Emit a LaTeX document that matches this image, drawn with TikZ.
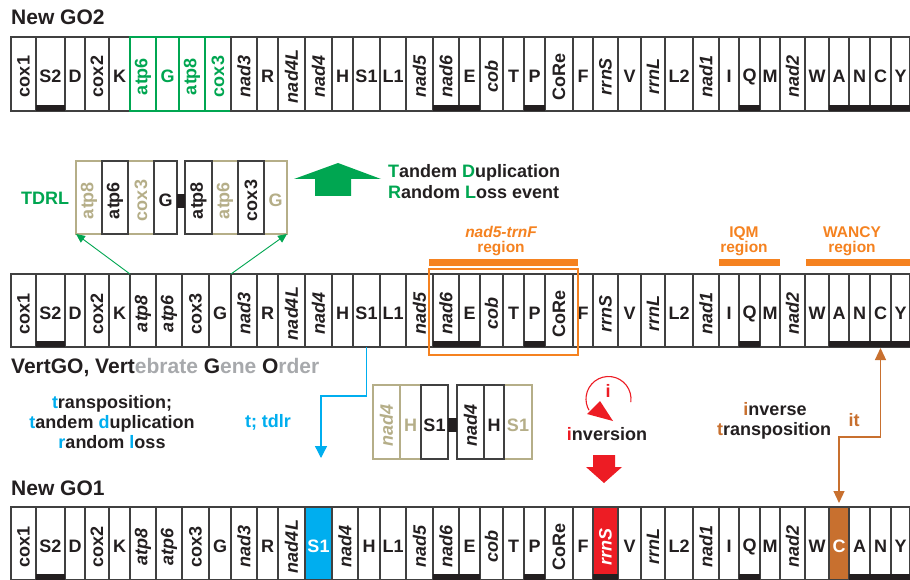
\documentclass[tikz,border=0pt]{standalone}
\usepackage{fontspec}
\setmainfont{Liberation Sans}
\usetikzlibrary{arrows.meta}
\definecolor{txt}{HTML}{231F20}
\definecolor{frame}{HTML}{404040}
\definecolor{tdgreen}{HTML}{00A651}
\definecolor{khaki}{HTML}{B5AE88}
\definecolor{rorange}{HTML}{F58220}
\definecolor{tblue}{HTML}{00AEEF}
\definecolor{tred}{HTML}{ED1C24}
\definecolor{tbrown}{HTML}{C8702F}
\definecolor{lgray}{HTML}{A7A9AC}
\newcommand\genefont{\fontsize{18}{19}\selectfont\bfseries}
\newcommand\titlefont{\fontsize{21}{24}\selectfont\bfseries}
\newcommand\bodyfont{\fontsize{18}{21}\selectfont\bfseries}
\newcommand\regfont{\fontsize{15.5}{17}\selectfont\bfseries}
\tikzset{
  gb/.style={rectangle, inner sep=0pt, outer sep=0pt, line width=1.3pt},
  bk/.is choice,
  bk/n/.style={draw=frame, fill=white},
  bk/g/.style={draw=tdgreen, fill=white},
  bk/k/.style={draw=khaki, fill=white},
  bk/u/.style={draw=frame, fill=tblue},
  bk/r/.style={draw=frame, fill=tred},
  bk/o/.style={draw=frame, fill=tbrown},
  tk/.is choice,
  tk/n/.style={text=txt},
  tk/g/.style={text=tdgreen},
  tk/k/.style={text=khaki},
  tk/u/.style={text=white},
  tk/r/.style={text=white},
  tk/o/.style={text=white},
  fmt/.is choice,
  fmt/t/.style={font=\genefont},
  fmt/p/.style={font=\genefont, rotate=90},
  fmt/i/.style={font=\genefont\itshape, rotate=90},
  lbl/.style={inner sep=0pt, outer sep=0pt},
  title/.style={inner sep=0pt, anchor=base west, font=\titlefont, text=txt},
  body/.style={inner sep=0pt, anchor=base, font=\bodyfont, text=txt},
  regl/.style={inner sep=0pt, anchor=base, font=\regfont, text=rorange},
  strandbar/.style={fill=txt},
  rowedge/.style={draw=gray!85!black, line width=1.6pt},
}
% #1 prefix, #2 top y, #3 height, #4 list
\newcommand\generow[4]{%
  \foreach \a/\b/\nm/\k/\s in {#4} {
    \node[gb, bk=\s, minimum width={(\b-\a)*1pt}, minimum height={#3*1pt}] (#1\nm) at ({(\a+\b)/2},{#2+#3/2}) {};
    \node[lbl, fmt=\k, tk=\s] (#1\nm-l) at ({(\a+\b)/2},{#2+39.5}) {\nm};
  }
}
\begin{document}
\begin{tikzpicture}[x=1pt, y=-1pt]
\useasboundingbox (0,0) rectangle (910,580);
\fill[white] (0,0) rectangle (910,580);

% ---------- titles ----------
\node[title] (go2) at (11,25) {New GO2};
\node[title] (vert) at (11,373) {VertGO, Vert\textcolor{lgray}{ebrate }G\textcolor{lgray}{ene }O\textcolor{lgray}{rder}};
\node[title] (go1) at (11,495) {New GO1};

% ---------- top row: New GO2 ----------
\generow{top-}{37}{74}{11/36/cox1/p/n, 36/65/S2/t/n, 65/85/D/t/n, 85/109/cox2/p/n, 109/130/K/t/n, 130/156/atp6/p/g, 156/179/G/t/g, 179/205/atp8/p/g, 205/231/cox3/p/g, 231/257/nad3/i/n, 257/278/R/t/n, 278/305/nad4L/i/n, 305/332/nad4/i/n, 332/353/H/t/n, 353/380/S1/t/n, 380/406/L1/t/n, 406/433/nad5/i/n, 433/459/nad6/i/n, 459/480/E/t/n, 480/503/cob/i/n, 503/524/T/t/n, 524/545/P/t/n, 545/573/CoRe/p/n, 573/593/F/t/n, 593/618/rrnS/i/n, 618/641/V/t/n, 641/665/rrnL/i/n, 665/693/L2/t/n, 693/719/nad1/i/n, 719/739/I/t/n, 739/760/Q/t/n, 760/780/M/t/n, 780/805/nad2/i/n, 805/829/W/t/n, 829/849/A/t/n, 849/870/N/t/n, 870/891/C/t/n, 891/910/Y/t/n}
\foreach \a/\b in {36/65, 433/480, 524/545, 739/760, 829/911}
  \fill[strandbar] (\a,105) rectangle (\b,111);

% ---------- middle row: VertGO ----------
\generow{mid-}{274}{73}{11/36/cox1/p/n, 36/65/S2/t/n, 65/85/D/t/n, 85/109/cox2/p/n, 109/130/K/t/n, 130/156/atp8/i/n, 156/182/atp6/i/n, 182/209/cox3/p/n, 209/231/G/t/n, 231/257/nad3/i/n, 257/278/R/t/n, 278/305/nad4L/i/n, 305/332/nad4/i/n, 332/353/H/t/n, 353/380/S1/t/n, 380/406/L1/t/n, 406/433/nad5/i/n, 433/459/nad6/i/n, 459/480/E/t/n, 480/503/cob/i/n, 503/524/T/t/n, 524/545/P/t/n, 545/573/CoRe/p/n, 573/593/F/t/n, 593/618/rrnS/i/n, 618/641/V/t/n, 641/665/rrnL/i/n, 665/693/L2/t/n, 693/719/nad1/i/n, 719/739/I/t/n, 739/760/Q/t/n, 760/780/M/t/n, 780/805/nad2/i/n, 805/829/W/t/n, 829/849/A/t/n, 849/870/N/t/n, 870/891/C/t/n, 891/910/Y/t/n}
\foreach \a/\b in {36/65, 433/480, 524/545, 739/760, 829/911}
  \fill[strandbar] (\a,341) rectangle (\b,347);

% ---------- bottom row: New GO1 ----------
\generow{bot-}{507}{73}{11/36/cox1/p/n, 36/65/S2/t/n, 65/85/D/t/n, 85/109/cox2/p/n, 109/130/K/t/n, 130/156/atp8/i/n, 156/182/atp6/i/n, 182/209/cox3/p/n, 209/231/G/t/n, 231/257/nad3/i/n, 257/278/R/t/n, 278/305/nad4L/i/n, 305/332/S1/t/u, 332/358/nad4/i/n, 358/380/H/t/n, 380/406/L1/t/n, 406/433/nad5/i/n, 433/459/nad6/i/n, 459/480/E/t/n, 480/503/cob/i/n, 503/524/T/t/n, 524/545/P/t/n, 545/573/CoRe/p/n, 573/593/F/t/n, 593/618/rrnS/i/r, 618/641/V/t/n, 641/665/rrnL/i/n, 665/693/L2/t/n, 693/719/nad1/i/n, 719/739/I/t/n, 739/760/Q/t/n, 760/780/M/t/n, 780/805/nad2/i/n, 805/829/W/t/n, 829/849/C/t/o, 849/870/A/t/n, 870/891/N/t/n, 891/910/Y/t/n}
\foreach \a/\b in {36/65, 433/480, 524/545, 593/618, 739/760, 849/911}
  \fill[strandbar] (\a,574) rectangle (\b,580);

% ---------- regions ----------
\fill[rorange] (429,259) rectangle (578,266);
\fill[rorange] (719,259) rectangle (780,266);
\fill[rorange] (806,259) rectangle (911,266);
\draw[rorange, line width=1.2pt] (429,269) rectangle (578,355);
\node[regl] (reg1a) at (501,237) {\itshape nad5-trnF};
\node[regl] (reg1b) at (501,252) {region};
\node[regl] (reg2a) at (744,237) {IQM};
\node[regl] (reg2b) at (744,252) {region};
\node[regl] (reg3a) at (852,237) {WANCY};
\node[regl] (reg3b) at (852,252) {region};

% ---------- TDRL group ----------
\node[inner sep=0pt, anchor=base west, font=\bodyfont, text=tdgreen] (tdrl) at (21,205) {TDRL};
\foreach \a/\b/\nm/\k/\s/\id in {76/102/atp8/p/k/d1, 128/154/cox3/p/k/d3, 212/238/atp6/p/k/d6, 264/287/G/t/k/d8, 102/128/atp6/p/n/d2, 154/177/G/t/n/d4, 185/212/atp8/p/n/d5, 238/264/cox3/p/n/d7} {
  \node[gb, bk=\s, minimum width={(\b-\a)*1pt}, minimum height=73pt] (\id) at ({(\a+\b)/2},197.5) {};
  \node[lbl, fmt=\k, tk=\s] (\id-l) at ({(\a+\b)/2},200.5) {\nm};
}
\node[fill=txt, inner sep=0pt, minimum width=8pt, minimum height=14pt] (dlink) at (181,201) {};
\draw[tdgreen, line width=0.9pt, -{Triangle[width=8pt,length=9pt]}] (mid-K.north east) -- (d1.south west);
\draw[tdgreen, line width=0.9pt, -{Triangle[width=8pt,length=9pt]}] (mid-G.north east) -- (d8.south east);

% big green arrow + caption
\fill[tdgreen] (338,163) -- (381,179) -- (351,179) -- (351,196) -- (315,196) -- (315,179) -- (294,179) -- cycle;
\node[body, anchor=base west] (tdl1) at (388,178) {\textcolor{tdgreen}{T}andem \textcolor{tdgreen}{D}uplication};
\node[body, anchor=base west] (tdl2) at (388,199) {\textcolor{tdgreen}{R}andom \textcolor{tdgreen}{L}oss event};

% ---------- S1 duplication group ----------
\foreach \a/\b/\nm/\k/\s/\id in {373/400/nad4/i/k/s1, 400/421/H/t/k/s2, 504/532/S1/t/k/s6, 421/448/S1/t/n/s3, 457/484/nad4/i/n/s4, 484/504/H/t/n/s5} {
  \node[gb, bk=\s, minimum width={(\b-\a)*1pt}, minimum height=74pt] (\id) at ({(\a+\b)/2},422) {};
  \node[lbl, fmt=\k, tk=\s] (\id-l) at ({(\a+\b)/2},425) {\nm};
}
\node[fill=txt, inner sep=0pt, minimum width=9pt, minimum height=14pt] (slink) at (452.5,425) {};

% ---------- transposition (blue) ----------
\node[body] (tr1) at (112,408) {\textcolor{tblue}{t}ransposition;};
\node[body] (tr2) at (112,428) {\textcolor{tblue}{t}andem \textcolor{tblue}{d}uplication};
\node[body] (tr3) at (112,448) {\textcolor{tblue}{r}andom \textcolor{tblue}{l}oss};
\node[body, text=tblue] (tdlr) at (268,427) {t; tdlr};
\coordinate (tdEnd) at (321,458);
\coordinate (tdTurn) at (0,396);
\draw[tblue, line width=1.3pt, -{Triangle[width=12pt,length=12pt]}] (mid-S1.south) |- (tdEnd |- tdTurn) -- (tdEnd);

% ---------- inversion (red) ----------
\draw[tred, line width=1.1pt] (608.5,399) ++(8:22.5) arc[start angle=8, end angle=-210, radius=22.5];
\fill[tred] (587,414) -- (600,401) -- (613,421) -- cycle;
\node[body, text=tred] (inv-i) at (608,397) {i};
\node[body] (inv) at (607,440) {\textcolor{tred}{i}nversion};
\fill[tred] (604,483) -- (622,467) -- (615,467) -- (615,455) -- (593,455) -- (593,467) -- (586,467) -- cycle;

% ---------- inverse transposition (brown) ----------
\node[body] (it1) at (775,415) {\textcolor{tbrown}{i}nverse};
\node[body] (it2) at (774,435) {\textcolor{tbrown}{t}ransposition};
\node[body, text=tbrown] (itl) at (854,426) {it};
\coordinate (itTurn) at (0,437);
\draw[tbrown, line width=1.2pt, {Triangle[width=11pt,length=12pt]}-{Triangle[width=11pt,length=12pt]}, shorten <=1pt, shorten >=4pt] (mid-C.south) |- (bot-C.north |- itTurn) -- (bot-C.north);
\end{tikzpicture}
\end{document}
